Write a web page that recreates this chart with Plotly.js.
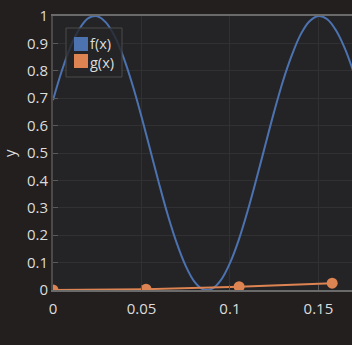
<!DOCTYPE html>
<html><head><meta charset="utf-8">
<script src="https://cdn.plot.ly/plotly-3.0.1.min.js"></script>
<style>html,body{margin:0;padding:0;background:#221f1e;}#chart{width:352px;height:345px;}</style>
</head><body><div id="chart"></div>
<script>
var fX = [0,0.005,0.01,0.015,0.02,0.025,0.03,0.035,0.04,0.045,0.05,0.055,0.06,0.065,0.07,0.075,0.08,0.085,0.09,0.095,0.1,0.105,0.11,0.115,0.12,0.125,0.13,0.135,0.14,0.145,0.15,0.155,0.16,0.165,0.17];
var fY = [0.693,0.800,0.889,0.954,0.992,0.999,0.976,0.924,0.846,0.747,0.633,0.510,0.387,0.271,0.170,0.088,0.030,0.002,0.005,0.037,0.098,0.183,0.288,0.406,0.529,0.651,0.763,0.857,0.933,0.981,1.000,0.988,0.947,0.881,0.793];
var gX = [0, 0.0526, 0.1052, 0.1578];
var gY = [0, 0.003, 0.012, 0.025];
var names = ['f(x)', 'g(x)'];
var colors = ['#4c72b0', '#dd8452'];
var yTitle = 'y';

// plot area in pixels (for converting the hand-drawn legend box to paper coords)
var PL = 53, PR = 352, PT = 16, PB = 290;
function px(v) { return (v - PL) / (PR - PL); }
function py(v) { return (PB - v) / (PB - PT); }

var traces = [
  {x: fX, y: fY, type: 'scatter', mode: 'lines', line: {color: colors[0], width: 2, shape: 'spline'}, showlegend: false, name: names[0], cliponaxis: true},
  {x: gX, y: gY, type: 'scatter', mode: 'lines+markers', line: {color: colors[1], width: 2}, marker: {color: colors[1], size: 11}, showlegend: false, name: names[1], cliponaxis: true}
];

var shapes = [
  {type: 'rect', xref: 'paper', yref: 'paper', x0: px(66), x1: px(122), y0: py(77), y1: py(28), fillcolor: 'rgba(36,36,39,0.8)', line: {color: '#4a4a4a', width: 1}},
  {type: 'rect', xref: 'paper', yref: 'paper', x0: px(74), x1: px(88), y0: py(51), y1: py(37), fillcolor: colors[0], line: {width: 0}},
  {type: 'rect', xref: 'paper', yref: 'paper', x0: px(74), x1: px(88), y0: py(68), y1: py(54), fillcolor: colors[1], line: {width: 0}}
];
var annotations = [
  {xref: 'paper', yref: 'paper', x: px(89), y: py(52.5), xanchor: 'left', yanchor: 'middle', align: 'left', text: names.join('<br>'), showarrow: false, borderpad: 0, font: {size: 14.5, color: '#dcdcdc'}},
  {xref: 'paper', yref: 'paper', x: px(9), y: 0.5, xanchor: 'center', yanchor: 'middle', text: yTitle, textangle: -90, showarrow: false, borderpad: 0, font: {size: 15, color: '#dcdcdc'}}
];

var layout = {
  width: 352, height: 345,
  margin: {l: 53, r: 0, t: 16, b: 55},
  paper_bgcolor: '#221f1e',
  plot_bgcolor: '#242427',
  font: {family: 'Open Sans', size: 15, color: '#dcdcdc'},
  showlegend: false,
  shapes: shapes,
  annotations: annotations,
  xaxis: {range: [0, 0.169], dtick: 0.05, tick0: 0, showgrid: true, gridcolor: '#313134', zeroline: false, showline: true, linecolor: '#6a6a6a', linewidth: 2, mirror: true, ticks: 'inside', ticklen: 5, tickcolor: '#5a5a5a', tickfont: {size: 15}, ticklabelstandoff: 4, layer: 'above traces'},
  yaxis: {range: [0, 1], dtick: 0.1, tick0: 0, showgrid: true, gridcolor: '#313134', zeroline: false, showline: true, linecolor: '#4e4a49', linewidth: 2, ticks: 'inside', ticklen: 5, tickcolor: '#5a5a5a', tickfont: {size: 15}, layer: 'above traces'}
};
Plotly.newPlot('chart', traces, layout, {displayModeBar: false, staticPlot: true});
</script></body></html>
